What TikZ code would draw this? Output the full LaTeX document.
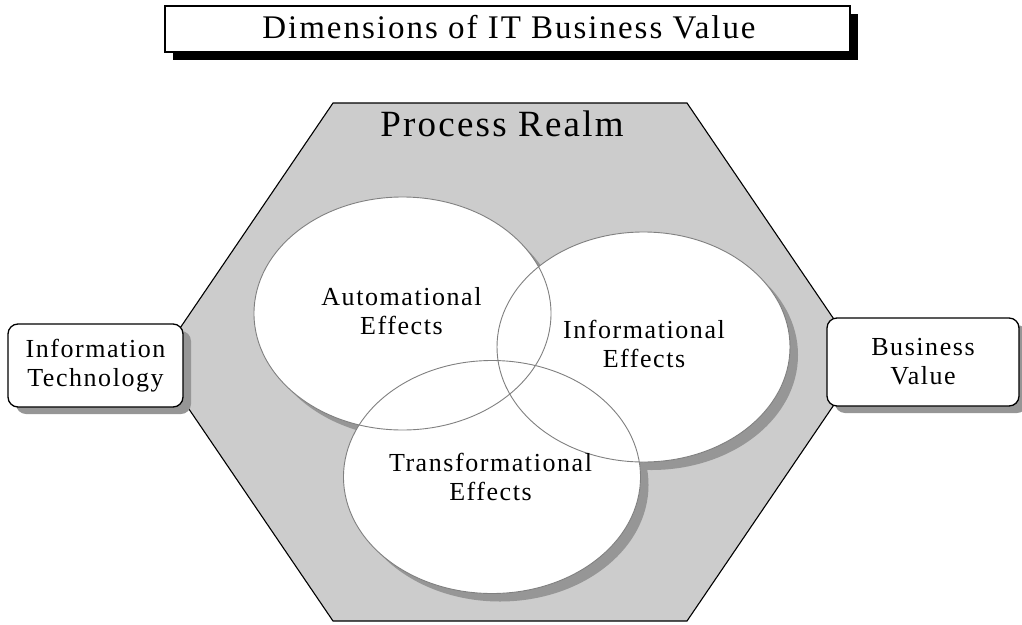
\documentclass[tikz,border=0pt]{standalone}
\usepackage{fontspec}
\setmainfont{Liberation Serif}[LetterSpace=6]
\usetikzlibrary{shadows}
\definecolor{hexgray}{HTML}{CCCCCC}
\definecolor{shadegray}{HTML}{969696}
\definecolor{edgegray}{HTML}{808080}
\begin{document}
\begin{tikzpicture}[x=1pt,y=-1pt,
  realm/.style={fill=hexgray, draw=black, line width=1.1pt, line join=miter},
  effshadow/.style={fill=shadegray},
  efffill/.style={fill=white},
  effedge/.style={draw=edgegray, line width=0.9pt},
  effsize/.style={x radius=148.5pt, y radius=116.5pt},
  efflabel/.style={font=\fontsize{26}{29}\selectfont, align=center, inner sep=0pt},
  sidebox/.style={draw=black, line width=1.3pt, fill=white, rounded corners=10pt,
    align=center, font=\fontsize{26}{29}\selectfont,
    drop shadow={shadow xshift=8pt, shadow yshift=-7pt, fill=shadegray, opacity=1}},
  titlebox/.style={draw=black, line width=2pt, fill=white,
    drop shadow={shadow xshift=8pt, shadow yshift=-8pt, fill=black, opacity=1}}
]
\useasboundingbox (0,0) rectangle (1022,624);
\clip (0,0) rectangle (1022,624);

% title
\node[titlebox, minimum width=685pt, minimum height=46pt] (tbox) at (507.5,29) {};
\node[font=\fontsize{33}{36}\selectfont, inner sep=0pt] (title) at (509,27) {Dimensions of IT Business Value};

% process realm hexagon
\draw[realm] (333,103) -- (687,103) -- (863,362) -- (687,621) -- (333,621) -- (157,362) -- cycle;
\node[font=\fontsize{37}{40}\selectfont, inner sep=0pt] (realm) at (502,123.5) {Process Realm};

% ellipse centres
\coordinate (cA) at (402.5,313.5);
\coordinate (cI) at (643.5,347);
\coordinate (cT) at (492,477);

% shadows
\fill[effshadow] ([shift={(8,8)}]cA) ellipse [effsize];
\fill[effshadow] ([shift={(8,8)}]cI) ellipse [x radius=146.5pt, y radius=115pt];
\fill[effshadow] ([shift={(8,8)}]cT) ellipse [effsize];
% fills
\fill[efffill] (cA) ellipse [effsize];
\fill[efffill] (cI) ellipse [x radius=146.5pt, y radius=115pt];
\fill[efffill] (cT) ellipse [effsize];
% outlines
\draw[effedge] (cA) ellipse [effsize];
\draw[effedge] (cI) ellipse [x radius=146.5pt, y radius=115pt];
\draw[effedge] (cT) ellipse [effsize];

\node[efflabel] (auto) at (401.5,311) {Automational\\Effects};
\node[efflabel] (info) at (644,344) {Informational\\Effects};
\node[efflabel] (trans) at (490.5,477) {Transformational\\Effects};

% side boxes
\node[sidebox, minimum width=175pt, minimum height=83pt] (it) at (95.5,365.5) {Information\\Technology};
\node[sidebox, minimum width=192pt, minimum height=88pt] (bv) at (923,362) {Business\\Value};
\end{tikzpicture}
\end{document}
